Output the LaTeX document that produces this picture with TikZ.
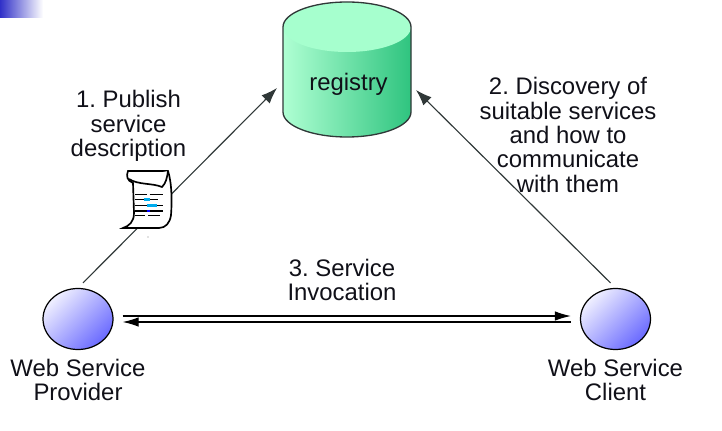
\documentclass[tikz,border=0pt]{standalone}
\usepackage{fontspec}
\setmainfont{Liberation Sans}
\usepackage{tikz}
\usetikzlibrary{arrows.meta,calc,positioning,shapes.geometric}
\definecolor{FigInk}{HTML}{101018}
\definecolor{FigEdge}{HTML}{303838}
\definecolor{FigMint}{HTML}{A6FFCE}
\definecolor{FigMintDark}{HTML}{2FC47F}
\definecolor{FigBallLight}{HTML}{F0F0FF}
\definecolor{FigBallDark}{HTML}{6A6AFF}
\definecolor{FigCorner}{HTML}{3030C8}
\newcommand{\WsText}{\fontsize{13.6}{13.85}\selectfont\frenchspacing}
\tikzset{
  labeltext/.style={
    align=center,
    inner sep=0pt,
    text=FigInk,
    font=\WsText
  },
  servicenode/.style={
    ellipse,
    draw=black,
    line width=0.7pt,
    minimum width=1.4cm,
    minimum height=1.22cm,
    inner sep=0pt,
    top color=FigBallLight,
    bottom color=FigBallDark,
    shading angle=45
  },
  flowarrow/.style={
    -{Latex[length=3.2mm,width=2.3mm]},
    draw=FigEdge,
    line width=0.65pt
  },
  callarrow/.style={
    -{Latex[length=3.2mm,width=1.9mm]},
    draw=black,
    line width=0.65pt
  },
  iconline/.style={draw=black, line width=0.95pt}
}

\begin{document}
\begin{tikzpicture}[x=1cm,y=1cm]
\path[use as bounding box] (0,0) rectangle (14.44,8.6);

% corner strip
\shade[left color=FigCorner, right color=white] (0,8.24) rectangle (0.86,8.6);

% registry cylinder
\shade[left color=FigMint!90!white, right color=FigMintDark]
  (5.66,8.06) -- (5.66,6.36) arc[start angle=180,end angle=360,x radius=1.28,y radius=0.5]
  -- (8.22,8.06) arc[start angle=0,end angle=180,x radius=1.28,y radius=0.5] -- cycle;
\fill[FigMint] (6.94,8.06) ellipse[x radius=1.28,y radius=0.5];
\draw[FigEdge, line width=0.75pt]
  (5.66,6.36) -- (5.66,8.06) arc[start angle=180,end angle=0,x radius=1.28,y radius=0.5]
  -- (8.22,6.36) arc[start angle=360,end angle=180,x radius=1.28,y radius=0.5];
\node[labeltext] (registry) at (6.97,6.92) {registry};

\coordinate (pubIn) at (5.54,6.84);
\coordinate (findIn) at (8.32,6.8);

\node[servicenode] (provider) at (1.56,2.22) {};
\node[servicenode] (client) at (12.31,2.22) {};

\draw[flowarrow, shorten <=0.14cm] (provider.north) -- (pubIn);
\draw[flowarrow, shorten <=0.14cm] (client.north) -- (findIn);
\draw[callarrow, shorten <=0.18cm, shorten >=0.18cm, transform canvas={yshift=0.06cm}] (provider.east) -- (client.west);
\draw[callarrow, shorten <=0.18cm, shorten >=0.18cm, transform canvas={yshift=-0.06cm}] (client.west) -- (provider.east);

% document icon
\begin{scope}[shift={(2.46,4.04)}]
\draw[iconline, fill=white]
  (0.1,1.14) -- (0.9,1.14) .. controls (0.98,0.9) and (0.98,0.5) .. (0.96,0.26)
  .. controls (0.94,0.1) and (0.85,0) .. (0.72,0) -- (0,0)
  .. controls (0.12,0.04) and (0.22,0.12) .. (0.22,0.3) -- (0.2,0.9)
  .. controls (0.08,0.95) and (0.06,1.04) .. (0.1,1.14) -- cycle;
\draw[iconline, fill=white] (0.12,0.98) .. controls (0.3,0.86) and (0.6,0.9) .. (0.78,0.82)
  .. controls (0.86,0.9) and (0.88,1.0) .. (0.9,1.14);
\foreach \ya/\xa/\xb in {0.67/0.24/0.47,0.67/0.53/0.8,0.57/0.24/0.41,0.57/0.53/0.7,0.45/0.24/0.47,0.45/0.67/0.8,0.34/0.24/0.47,0.34/0.53/0.8,0.25/0.24/0.44,0.25/0.5/0.74}
  \draw[black, line width=0.9pt] (\xa,\ya) -- (\xb,\ya);
\draw[cyan, line width=1.3pt] (0.41,0.57) -- (0.53,0.57);
\draw[cyan, line width=1.3pt] (0.47,0.45) -- (0.67,0.45);
\draw[blue, line width=1.3pt] (0.47,0.34) -- (0.53,0.34);
\fill[gray] (0.5,-0.18) circle[radius=0.4pt];
\end{scope}

\node[labeltext] (publish) at (2.57,6.08) {1. Publish\\service\\description};
\node[labeltext] (discovery) at (11.36,5.9) {2. Discovery of\\suitable services\\and how to\\communicate\\with them};
\node[labeltext] (invocation) at (6.84,3.0) {3. Service\\Invocation};
\node[labeltext, below=0.17cm of provider] (providername) {Web Service\\Provider};
\node[labeltext, below=0.17cm of client] (clientname) {Web Service\\Client};
\end{tikzpicture}
\end{document}
